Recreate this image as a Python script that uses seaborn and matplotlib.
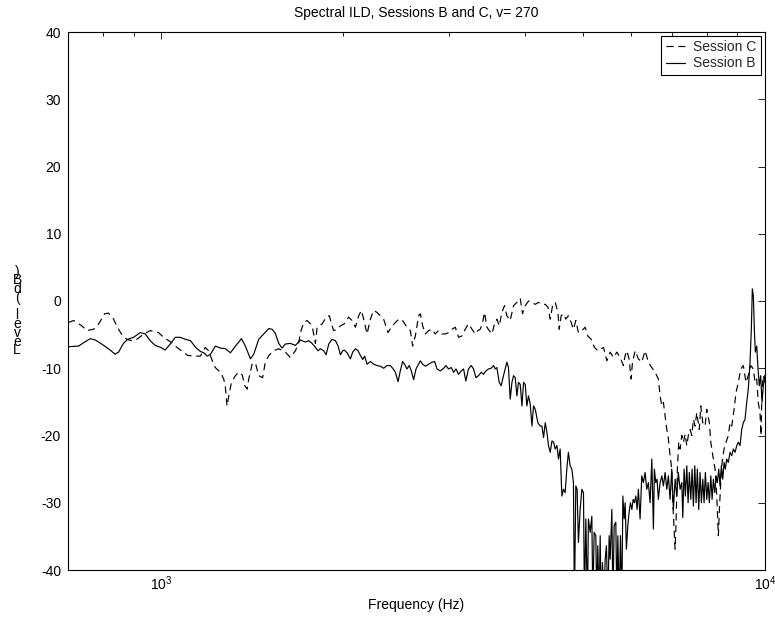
import matplotlib
matplotlib.use("Agg")
import matplotlib.pyplot as plt
import matplotlib.ticker as mticker
import seaborn as sns

# Session B (solid): frequency in Hz and interaural level difference in dB
freq_b = [701, 729, 743, 762, 777, 796, 817, 838, 849, 865, 879, 899, 922, 940, 958, 976, 997, 1014, 1034, 1054, 1074,
          1096, 1117, 1139, 1160, 1175, 1191, 1206, 1228, 1252, 1276, 1301, 1326, 1357, 1377, 1404, 1422, 1449, 1477,
          1506, 1525, 1544, 1564, 1584, 1604, 1635, 1667, 1699,
          1731, 1754, 1776, 1799, 1817, 1834, 1857, 1874, 1893, 1917, 1942, 1962, 1979, 1996, 2009, 2030, 2056, 2074,
          2096, 2117, 2136, 2155, 2171, 2191, 2219, 2247, 2276, 2305, 2334, 2364, 2395, 2416, 2441, 2466, 2487, 2509,
          2528, 2551, 2574, 2594, 2617, 2641, 2667, 2685, 2709,
          2737, 2771, 2807, 2835, 2861, 2897, 2934, 2960, 2990, 3021, 3048, 3076, 3106, 3138, 3166, 3194, 3226, 3260,
          3289, 3319, 3352, 3387, 3417, 3448, 3482, 3518, 3550, 3573, 3595, 3628, 3655, 3687, 3711, 3735, 3758, 3783,
          3808, 3831, 3856, 3881, 3904, 3930, 3956, 3980, 4006, 4031, 4056, 4083, 4110, 4135, 4162, 4204, 4242, 4270,
          4296,
          4324, 4351, 4378, 4407, 4436, 4463, 4492, 4521, 4548, 4577, 4607, 4635, 4665, 4695, 4723, 4755, 4786, 4815,
          4833, 4859, 4883, 4907, 4940, 4972, 5003, 5022, 5048, 5079, 5098, 5132, 5165, 5185, 5211, 5244, 5264, 5284,
          5311, 5332, 5352, 5379, 5408, 5435, 5461, 5490, 5518, 5539, 5575, 5597, 5624, 5660, 5682, 5704, 5732, 5761,
          5791, 5814, 5843, 5865, 5893, 5925, 5954, 5985, 6017, 6047, 6077, 6109, 6139, 6169, 6209, 6249, 6288, 6329,
          6369, 6408, 6451, 6493, 6533, 6557, 6592, 6625, 6657,
          6702, 6746, 6787, 6831, 6875, 6917, 6962, 7007, 7050, 7096, 7142, 7185, 7233, 7280, 7308, 7344, 7381, 7420,
          7457, 7493, 7534, 7572, 7609, 7650, 7688, 7725, 7766, 7806, 7845, 7887, 7926, 7965, 8007, 8048, 8087, 8132,
          8172, 8213, 8257, 8297, 8338, 8382, 8424, 8466, 8512, 8554, 8596, 8641, 8694, 8752, 8809, 8863, 8921, 8978,
          9032, 9091, 9150, 9206, 9266, 9326, 9382, 9445, 9492, 9528, 9565, 9601, 9638, 9689, 9738, 9785, 9837, 9887,
          9936, 10000]
level_b = [-6.8, -6.7, -6.2, -5.6, -5.8, -6.4, -7.1, -7.9, -7.6, -6.3, -5.7, -5.4, -4.7, -4.9, -5.9, -6.6, -6.9, -7.3,
           -6.4, -5.4, -5.4,
           -5.7, -5.9, -6.9, -7.5, -7.7, -8.2, -7.9, -6.7, -7.0, -7.1, -7.7, -6.7, -5.6, -6.7, -8.6, -7.9, -5.7, -4.9,
           -4.1, -4.2, -4.8, -6.3, -7.0, -6.4, -6.3, -6.6, -5.8,
           -6.1, -5.9, -6.3, -6.9, -7.4, -7.1, -7.4, -8.0, -6.4, -5.7, -5.9, -6.7, -8.0, -7.4, -7.3, -7.7, -8.6, -7.6,
           -7.1, -7.4, -8.1, -8.7, -8.2, -9.4, -9.0, -9.4, -9.6, -9.7, -10.0, -9.6, -9.6, -10.0, -10.6, -12.0, -10.4,
           -9.0, -9.4, -10.1, -9.6, -10.4, -11.7, -10.1, -9.4, -8.9, -9.4,
           -9.7, -9.4, -9.1, -9.0, -10.1, -10.4, -10.0, -9.6, -10.1, -9.9, -10.6, -10.1, -10.9, -10.4, -10.1, -11.9,
           -10.1, -9.6, -10.1, -11.4, -11.1, -10.6, -10.9, -10.4, -10.1, -10.0, -9.6, -10.1, -9.9, -12.1, -12.6,
           -11.1, -10.1, -9.1, -9.9, -14.6, -12.1, -11.1, -11.4, -14.1, -12.1, -12.4, -15.6, -12.1, -12.4, -15.6,
           -14.1, -15.3, -18.6, -15.6, -16.1, -18.1, -18.6, -18.6, -20.3,
           -18.1, -19.5, -21.5, -22.5, -20.8, -21.0, -22.0, -21.5, -23.5, -22.0, -29.0, -28.0, -28.5, -25.0, -22.5,
           -24.5, -25.0, -27.0, -45.0, -27.5, -28.0, -35.9, -31.0, -28.0, -28.5, -45.0, -32.4, -45.0, -32.4, -34.4,
           -32.0, -45.0, -34.4, -34.9, -45.0, -36.4, -45.0, -34.9, -45.0, -38.9, -45.0, -38.4, -36.4, -45.0, -34.9,
           -38.4, -31.0, -45.0, -33.4, -32.9, -45.0, -34.9, -45.0, -34.9, -45.0, -29.0, -32.4, -30.0, -36.9, -33.4,
           -31.4, -30.0, -31.0, -29.5, -30.0, -29.0, -31.0, -28.0, -32.4, -26.0, -27.0, -25.5, -28.0, -27.0, -30.0,
           -23.5, -33.9, -25.0, -27.0, -26.5, -29.5,
           -27.0, -26.0, -27.5, -25.5, -28.0, -26.0, -29.5, -25.0, -31.0, -26.5, -29.0, -25.5, -28.0, -27.0, -32.2,
           -25.0, -29.0, -24.5, -30.0, -25.5, -29.5, -25.0, -30.5, -24.5, -30.0, -25.0, -31.0, -25.5, -30.0, -26.5,
           -30.0, -25.5, -29.5, -27.0, -30.0, -26.0, -29.5, -26.5, -28.5, -26.0, -27.0, -25.0, -27.5, -24.5, -26.5,
           -24.0, -25.0, -23.5, -24.0, -22.5, -23.0, -22.0, -22.5, -21.5, -21.0, -21.5, -19.1, -18.1, -17.6, -15.1,
           -13.1, -9.1, -4.2, 1.8, 0.8, -4.2, -7.6, -6.7, -10.1, -12.6, -11.1, -15.1, -12.6, -11.0]

# Session C (dashed)
freq_c = [701, 715, 738, 752, 772, 787, 805, 817, 833, 843, 858, 876, 892, 910, 935, 958, 989, 1008, 1040, 1054, 1087,
          1105,
          1139, 1160, 1182, 1197, 1214, 1228, 1252, 1268, 1276, 1284, 1296, 1306, 1326, 1343, 1361, 1374, 1387, 1395,
          1413, 1431, 1449, 1471, 1486, 1506, 1535, 1564, 1604, 1635, 1667, 1688, 1699, 1721,
          1743, 1765, 1781, 1799, 1811, 1846, 1874, 1898, 1912, 1929, 1954, 1979, 2009, 2042, 2069, 2096, 2122, 2144,
          2163, 2191, 2219, 2247, 2276, 2334, 2373, 2411, 2472, 2509, 2551, 2584, 2607, 2634, 2667, 2685, 2709, 2737,
          2771, 2807, 2843, 2878, 2916, 2953, 2990, 3030, 3068, 3106, 3146, 3186, 3226, 3269, 3311, 3344, 3374, 3404,
          3430, 3461, 3492, 3528, 3563, 3595, 3628, 3665, 3701, 3735, 3783, 3831, 3881, 3930, 3965, 4006, 4056, 4110,
          4162, 4214, 4270,
          4324, 4368, 4407, 4446, 4492, 4538, 4561, 4594, 4635, 4677, 4723, 4773, 4815, 4859, 4907, 4972, 5035, 5087,
          5152, 5217, 5284, 5352, 5400, 5470, 5539, 5609, 5682, 5754, 5827, 5865, 5902, 5954, 6001, 6031, 6093, 6169,
          6249, 6329, 6408, 6493, 6576, 6657,
          6702, 6746, 6787, 6831, 6875, 6917, 6962, 7007, 7034, 7069, 7096, 7123, 7158, 7195, 7233, 7280, 7325, 7373,
          7420, 7464, 7514, 7563, 7609, 7659, 7708, 7783, 7827, 7887, 7957, 8007, 8087, 8132, 8194, 8266, 8319, 8370,
          8402, 8447, 8489, 8554, 8619, 8694, 8752, 8809, 8887, 8954, 9032, 9116, 9206, 9301, 9382, 9471, 9565, 9627,
          9689, 9747, 9811, 9848, 9887, 9936, 9989]
level_c = [-3.2, -2.9, -3.7, -4.4, -4.2, -3.4, -1.9, -1.8, -2.7, -3.7, -4.9, -5.7, -5.9, -5.7, -4.9, -4.4, -4.7, -5.4,
           -6.2, -6.7, -7.6, -8.1,
           -8.2, -8.2, -6.9, -7.4, -8.9, -9.9, -10.6, -11.6, -12.8, -15.6, -13.6, -12.1, -11.1, -10.6, -11.0, -12.6,
           -13.1, -11.6, -9.4, -9.2, -11.1, -11.4, -9.1, -8.1, -7.4, -7.1, -7.6, -8.4, -7.4, -6.2, -4.7, -3.2,
           -2.9, -3.4, -4.2, -6.3, -3.9, -3.4, -2.4, -2.2, -3.4, -4.4, -4.2, -3.7, -3.4, -2.4, -2.9, -3.9, -2.2, -1.4,
           -2.7, -4.9, -2.7, -1.4, -1.7, -2.7, -4.7, -3.7, -2.7, -2.9, -3.9, -4.4, -6.7, -5.2, -2.2, -1.9, -3.7, -4.9,
           -4.4, -4.2, -4.9, -4.4, -4.9, -4.9, -4.7, -4.2, -3.9, -5.4, -5.2, -4.2, -3.4, -4.2, -4.9, -4.4, -4.2, -3.2,
           -1.7, -3.9, -4.4, -4.9, -3.4, -2.7, -3.7, -1.7, -0.7, -2.2, -2.9, -0.7, -0.2, 0.4, -1.9, -0.7, 0.0, -0.2,
           -0.5, -0.2, -0.5,
           -0.5, -0.9, -2.7, -0.7, -0.2, -1.7, -4.2, -2.2, -1.9, -2.7, -2.2, -3.2, -4.2, -2.9, -4.7, -4.4, -3.9, -5.2,
           -5.7, -6.9, -7.4, -7.1, -6.9, -8.9, -7.6, -8.4, -7.6, -8.4, -9.6, -8.1, -7.4, -8.6, -11.6, -9.1, -7.4,
           -8.6, -9.1, -7.4, -9.1, -9.9, -10.6, -11.6,
           -14.1, -15.6, -15.1, -17.1, -19.1, -20.5, -23.0, -25.0, -30.0, -33.9, -36.9, -32.9, -25.0, -21.0, -22.0,
           -20.0, -21.0, -19.8, -21.5, -20.0, -19.1, -20.0, -17.6, -18.6, -16.6, -19.1, -15.6, -18.1, -18.6, -16.1,
           -18.1, -21.0, -23.0, -25.0, -29.0, -34.9, -31.0, -27.0, -24.0, -22.0, -21.0, -20.0, -18.1, -18.6, -16.1,
           -13.6, -12.1, -10.1, -9.6, -12.1, -11.1, -9.6, -10.1, -12.1, -11.6, -15.1, -16.6, -20.0, -13.1, -11.1,
           -12.1]

series_names = ["Session C", "Session B"]
title_text = "Spectral ILD, Sessions B and C, v= 270"
x_label = "Frequency (Hz)"
y_label = "Level (dB)"
y_ticks = [-40, -30, -20, -10, 0, 10, 20, 30, 40]

sns.set_theme(style="white")
plt.rcParams["font.family"] = ["Liberation Sans", "DejaVu Sans"]
plt.rcParams["axes.unicode_minus"] = False
plt.rcParams["axes.edgecolor"] = "black"
plt.rcParams["axes.linewidth"] = 0.8

fig = plt.figure(figsize=(7.75, 6.2), dpi=100)
ax = fig.add_axes([68 / 775, 50 / 620, 697 / 775, 538 / 620])

lw = 0.85
sns.lineplot(x=freq_c, y=level_c, ax=ax, color="black", linewidth=lw,
             linestyle=(0, (6, 4)), sort=False, estimator=None, label=series_names[0])
sns.lineplot(x=freq_b, y=level_b, ax=ax, color="black", linewidth=lw,
             sort=False, estimator=None, label=series_names[1])

ax.set_xscale("log")
ax.set_xlim(700, 10000)
ax.set_ylim(-40, 40)
ax.set_yticks(y_ticks)
ax.xaxis.set_major_locator(mticker.LogLocator(base=10))
ax.xaxis.set_minor_locator(mticker.LogLocator(base=10, subs=range(2, 10)))
ax.xaxis.set_minor_formatter(mticker.NullFormatter())

fs = 10
ax.tick_params(axis="both", which="both", direction="in", top=True, right=True,
               colors="black", labelsize=fs, width=0.6)
ax.tick_params(axis="both", which="major", length=5)
ax.tick_params(axis="y", which="major", pad=5)
ax.tick_params(axis="x", which="major", pad=3)
ax.tick_params(axis="both", which="minor", length=3)
for sp in ax.spines.values():
    sp.set_visible(True)
    sp.set_color("black")
    sp.set_linewidth(0.8)

ax.set_title(title_text, fontsize=fs, pad=10.5, color="black")
ax.set_xlabel(x_label, fontsize=fs, color="black", labelpad=4)
ax.set_ylabel("")

# vertical, upright-stacked axis label
fig.text(17 / 775, 1 - 311 / 620, "\n".join(y_label[::-1]), ha="center", va="center",
         fontsize=fs, linespacing=0.52, color="black")

leg = ax.legend(loc="upper right", fontsize=fs, frameon=True, fancybox=False,
                framealpha=1, edgecolor="black", borderaxespad=0.3,
                handlelength=1.4, handletextpad=0.6, borderpad=0.3, labelspacing=0.15)
leg.get_frame().set_linewidth(0.8)

fig.savefig("out.png", dpi=100, facecolor="white")
